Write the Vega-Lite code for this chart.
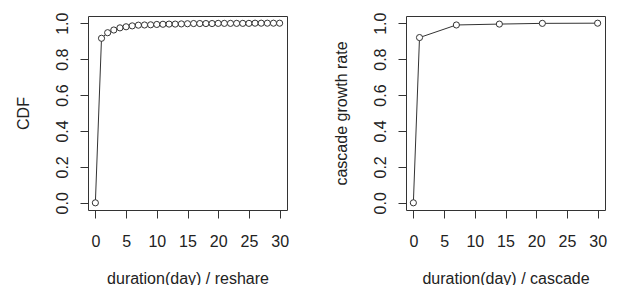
{
  "$schema": "https://vega.github.io/schema/vega-lite/v6.json",
  "background": "white",
  "padding": {"left": 14, "top": 11, "right": 0, "bottom": 0},
  "spacing": 119,
  "bounds": "flush",
  "datasets": {
    "reshare": [
      {"day": 0, "value": 0.0},
      {"day": 1, "value": 0.916},
      {"day": 2, "value": 0.947},
      {"day": 3, "value": 0.962},
      {"day": 4, "value": 0.974},
      {"day": 5, "value": 0.98},
      {"day": 6, "value": 0.985},
      {"day": 7, "value": 0.989},
      {"day": 8, "value": 0.99},
      {"day": 9, "value": 0.991},
      {"day": 10, "value": 0.993},
      {"day": 11, "value": 0.994},
      {"day": 12, "value": 0.995},
      {"day": 13, "value": 0.995},
      {"day": 14, "value": 0.996},
      {"day": 15, "value": 0.997},
      {"day": 16, "value": 0.998},
      {"day": 17, "value": 0.998},
      {"day": 18, "value": 0.998},
      {"day": 19, "value": 0.998},
      {"day": 20, "value": 0.999},
      {"day": 21, "value": 0.999},
      {"day": 22, "value": 0.999},
      {"day": 23, "value": 0.999},
      {"day": 24, "value": 0.999},
      {"day": 25, "value": 0.999},
      {"day": 26, "value": 1.0},
      {"day": 27, "value": 1.0},
      {"day": 28, "value": 1.0},
      {"day": 29, "value": 1.0},
      {"day": 30, "value": 1.0}
    ],
    "cascade": [
      {"day": 0, "value": 0.0},
      {"day": 1, "value": 0.92},
      {"day": 7, "value": 0.99},
      {"day": 14, "value": 0.995},
      {"day": 21, "value": 0.999},
      {"day": 30, "value": 1.0}
    ]
  },
  "config": {
    "font": "Liberation Sans",
    "view": {"stroke": "#333333", "strokeWidth": 1},
    "axis": {
      "grid": false,
      "domain": false,
      "tickColor": "#333333",
      "tickSize": 8,
      "labelFont": "Liberation Sans",
      "labelFontSize": 16,
      "labelColor": "#222222",
      "titleFont": "Liberation Sans",
      "titleFontSize": 16,
      "titleFontWeight": "normal",
      "titleColor": "#222222"
    },
    "axisX": {
      "labelPadding": 15,
      "titleY": 73,
      "titleBaseline": "alphabetic"
    },
    "axisY": {
      "labelAngle": -90,
      "labelAlign": "center",
      "labelBaseline": "alphabetic",
      "labelPadding": 13,
      "titleX": -65,
      "titleY": 97,
      "titleAngle": -90,
      "titleAlign": "center",
      "titleBaseline": "middle"
    }
  },
  "hconcat": [
    {
      "width": 199,
      "height": 194,
      "data": {"name": "reshare"},
      "encoding": {
        "x": {"field": "day", "type": "quantitative", "scale": {"domain": [-1.2, 31.2], "nice": false, "zero": false}, "axis": {"values": [0, 5, 10, 15, 20, 25, 30], "title": "duration(day) / reshare"}},
        "y": {"field": "value", "type": "quantitative", "scale": {"domain": [-0.04, 1.04], "nice": false, "zero": false}, "axis": {"values": [0, 0.2, 0.4, 0.6, 0.8, 1.0], "format": ".1f", "title": "CDF"}}
      },
      "layer": [
        {"mark": {"type": "line", "color": "#333333", "strokeWidth": 1}},
        {"mark": {"type": "point", "shape": "circle", "size": 38, "filled": false, "fill": "white", "fillOpacity": 1, "stroke": "#333333", "strokeWidth": 1, "opacity": 1}}
      ]
    },
    {
      "width": 199,
      "height": 194,
      "data": {"name": "cascade"},
      "encoding": {
        "x": {"field": "day", "type": "quantitative", "scale": {"domain": [-1.2, 31.2], "nice": false, "zero": false}, "axis": {"values": [0, 5, 10, 15, 20, 25, 30], "title": "duration(day) / cascade"}},
        "y": {"field": "value", "type": "quantitative", "scale": {"domain": [-0.04, 1.04], "nice": false, "zero": false}, "axis": {"values": [0, 0.2, 0.4, 0.6, 0.8, 1.0], "format": ".1f", "title": "cascade growth rate"}}
      },
      "layer": [
        {"mark": {"type": "line", "color": "#333333", "strokeWidth": 1}},
        {"mark": {"type": "point", "shape": "circle", "size": 38, "filled": false, "fill": "white", "fillOpacity": 1, "stroke": "#333333", "strokeWidth": 1, "opacity": 1}}
      ]
    }
  ]
}
